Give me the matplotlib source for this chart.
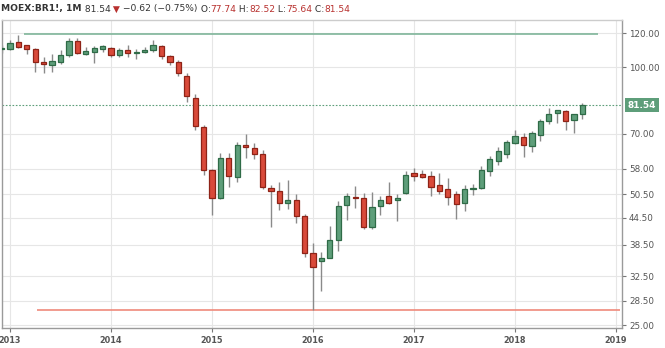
import matplotlib
matplotlib.use("Agg")
import matplotlib.pyplot as plt
from matplotlib.ticker import FixedLocator, NullLocator, FixedFormatter
import numpy as np

# Monthly candles, Dec 2012 .. Sep 2018
months = ["2012-12",
          "2013-01", "2013-02", "2013-03", "2013-04", "2013-05", "2013-06",
          "2013-07", "2013-08", "2013-09", "2013-10", "2013-11", "2013-12",
          "2014-01", "2014-02", "2014-03", "2014-04", "2014-05", "2014-06",
          "2014-07", "2014-08", "2014-09", "2014-10", "2014-11", "2014-12",
          "2015-01", "2015-02", "2015-03", "2015-04", "2015-05", "2015-06",
          "2015-07", "2015-08", "2015-09", "2015-10", "2015-11", "2015-12",
          "2016-01", "2016-02", "2016-03", "2016-04", "2016-05", "2016-06",
          "2016-07", "2016-08", "2016-09", "2016-10", "2016-11", "2016-12",
          "2017-01", "2017-02", "2017-03", "2017-04", "2017-05", "2017-06",
          "2017-07", "2017-08", "2017-09", "2017-10", "2017-11", "2017-12",
          "2018-01", "2018-02", "2018-03", "2018-04", "2018-05", "2018-06",
          "2018-07", "2018-08", "2018-09"]

opens = [110.5,
         110.1, 114.5, 112.5, 110.2, 103.0, 101.5, 103.0, 107.0, 115.5, 107.7, 108.4, 110.4,
         111.0, 107.0, 109.8, 108.0, 108.5, 110.0, 112.0, 106.5, 103.0, 95.5, 85.0, 72.5,
         57.5, 49.6, 61.3, 55.5, 66.0, 64.7, 62.8, 52.3, 51.4, 48.2, 48.9, 45.0,
         36.8, 35.3, 35.9, 39.6, 47.6, 49.9, 49.5, 42.3, 47.3, 50.1, 49.1, 50.8,
         56.6, 56.3, 55.8, 53.1, 51.9, 50.6, 48.3, 51.9, 52.3, 57.1, 60.3, 62.9,
         66.5, 68.8, 65.6, 69.3, 75.0, 78.1, 79.2, 75.2, 77.74]
highs = [113.0,
         115.9, 119.2, 113.0, 111.0, 106.0, 107.5, 109.5, 117.3, 117.0, 111.8, 112.0, 113.0,
         111.5, 111.0, 112.5, 110.5, 111.5, 115.7, 112.5, 107.0, 104.0, 97.0, 86.5, 73.5,
         58.0, 63.0, 63.0, 67.0, 69.8, 66.5, 64.0, 53.0, 54.0, 54.5, 50.7, 45.5,
         38.8, 37.1, 42.5, 48.6, 50.8, 52.8, 50.8, 51.0, 50.0, 53.9, 50.5, 57.3,
         58.3, 57.6, 57.3, 56.6, 55.0, 51.3, 53.1, 53.3, 58.9, 61.9, 65.2, 67.6,
         71.4, 70.1, 71.0, 75.6, 80.5, 79.7, 79.7, 77.9, 82.52]
lows = [108.3,
        109.8, 111.0, 107.5, 97.5, 96.8, 97.6, 102.0, 106.0, 107.5, 106.6, 102.6, 108.4,
        105.8, 105.8, 105.8, 104.6, 107.8, 108.5, 104.5, 101.0, 95.5, 83.1, 71.5, 56.0,
        45.2, 49.3, 52.5, 54.0, 61.4, 61.0, 52.0, 42.4, 46.5, 46.7, 43.2, 36.0,
        27.1, 30.0, 35.8, 37.3, 44.0, 47.0, 42.0, 41.8, 45.2, 48.0, 43.8, 50.5,
        54.2, 55.0, 50.0, 50.5, 47.6, 44.3, 46.2, 50.2, 51.9, 55.7, 59.1, 61.3,
        66.2, 61.8, 63.5, 67.1, 73.9, 74.1, 71.4, 70.4, 75.64]
closes = [111.1,
          114.2, 111.4, 110.2, 102.8, 101.8, 103.6, 107.0, 115.3, 108.3, 108.9, 111.0, 111.9,
          107.0, 109.5, 108.0, 108.6, 110.0, 112.5, 106.5, 103.0, 96.8, 85.5, 73.0, 57.5,
          49.5, 61.3, 55.8, 66.0, 65.0, 62.8, 52.5, 51.3, 48.3, 49.1, 45.0, 36.8,
          34.2, 35.9, 39.6, 47.5, 50.1, 49.5, 42.4, 47.1, 49.0, 48.3, 49.5, 56.0,
          55.8, 55.4, 52.6, 51.3, 49.8, 47.9, 52.1, 52.3, 57.5, 61.0, 63.8, 66.8,
          69.0, 65.7, 70.4, 75.0, 77.7, 79.5, 75.0, 77.74, 81.54]

y_ticks = [25.0, 28.5, 32.5, 38.5, 44.5, 50.5, 58.0, 70.0, 100.0, 120.0]
year_labels = ["2013", "2014", "2015", "2016", "2017", "2018", "2019"]
resistance = 119.6
support = 27.1
last_price = 81.54

UP_FILL = "#5e9e7a"
UP_EDGE = "#2f6b47"
DN_FILL = "#d94a3a"
DN_EDGE = "#8e2317"
WICK = "#8a8a8a"
RED_TXT = "#b8312f"
DARK = "#333333"

W, H = 665, 348
fig = plt.figure(figsize=(W / 100, H / 100), dpi=100)
ax = fig.add_axes([2 / W, 20 / H, 620 / W, 308 / H])

def month_index(m):
    y, mo = m.split("-")
    return (int(y) - 2013) * 12 + int(mo) - 1

x = np.array([month_index(m) for m in months], dtype=float)
o = np.array(opens); h = np.array(highs); l = np.array(lows); c = np.array(closes)
up = c >= o

ax.set_yscale("log")
ax.set_ylim(24.6, 129.0)
ax.set_xlim(-0.95, 72.7)

# grid
for yv in y_ticks:
    ax.axhline(yv, color="#e6e6e6", lw=0.8, zorder=0)
for i in range(len(year_labels)):
    ax.axvline(i * 12, color="#e6e6e6", lw=0.8, zorder=0)

# wicks
ax.vlines(x, l, h, color=WICK, lw=1.0, zorder=2)
# bodies
bottoms = np.minimum(o, c)
tops = np.maximum(o, c)
tops = np.maximum(tops, bottoms * 1.004)
ax.bar(x[up], tops[up] - bottoms[up], bottom=bottoms[up], width=0.62,
       color=UP_FILL, edgecolor=UP_EDGE, linewidth=0.9, zorder=3)
ax.bar(x[~up], tops[~up] - bottoms[~up], bottom=bottoms[~up], width=0.62,
       color=DN_FILL, edgecolor=DN_EDGE, linewidth=0.9, zorder=3)

# horizontal levels
ax.hlines(resistance, 1.7, 69.9, color="#7fb59a", lw=1.2, zorder=1)
ax.hlines(support, 3.2, 72.5, color="#ef8a7c", lw=1.2, zorder=1)
ax.axhline(last_price, color="#5e9e7a", lw=0.8, ls=(0, (1.5, 1.5)), zorder=1)

# axes styling
ax.yaxis.tick_right()
ax.yaxis.set_major_locator(FixedLocator(y_ticks))
ax.yaxis.set_minor_locator(NullLocator())
ax.yaxis.set_major_formatter(FixedFormatter([f"{v:.2f}" for v in y_ticks]))
ax.set_xticks([i * 12 for i in range(len(year_labels))])
ax.set_xticklabels(year_labels)
ax.tick_params(axis="y", which="both", length=3, width=0.8, colors="#777777",
               labelcolor="#555555", labelsize=6.3, pad=2)
ax.tick_params(axis="x", length=3, width=0.8, colors="#777777",
               labelcolor="#555555", labelsize=5.9, pad=3)
for lab in ax.get_xticklabels():
    lab.set_fontweight("bold")
for side in ["left", "right", "bottom", "top"]:
    ax.spines[side].set_color("#9a9a9a")
    ax.spines[side].set_linewidth(1.0)
ax.spines["top"].set_color("#cccccc")

# last price label
ax.annotate(f"{last_price:.2f}", xy=(1.0, last_price), xycoords=("axes fraction", "data"),
            xytext=(4, 0), textcoords="offset points", ha="left", va="center",
            fontsize=6.5, color="white", fontweight="bold",
            bbox=dict(boxstyle="square,pad=0.3", fc="#5e9e7a", ec="none"),
            annotation_clip=False)

# header legend
pieces = [("MOEX:BR1!, 1M", DARK, "bold"), (" 81.54", DARK, "normal"),
          (" \u25BC", RED_TXT, "normal"), (" \u22120.62 (\u22120.75%)", DARK, "normal"),
          (" O:", DARK, "normal"), ("77.74", RED_TXT, "normal"),
          (" H:", DARK, "normal"), ("82.52", RED_TXT, "normal"),
          (" L:", DARK, "normal"), ("75.64", RED_TXT, "normal"),
          (" C:", DARK, "normal"), ("81.54", RED_TXT, "normal")]
fig.canvas.draw()
renderer = fig.canvas.get_renderer()
xpos = 1.0
for txt, col, wt in pieces:
    t = fig.text(xpos / W, 1 - 9 / H, txt, color=col, fontweight=wt, fontsize=6.6,
                 va="center", ha="left", family="DejaVu Sans")
    bb = t.get_window_extent(renderer=renderer)
    xpos += bb.width

fig.savefig("out.png", dpi=100)
